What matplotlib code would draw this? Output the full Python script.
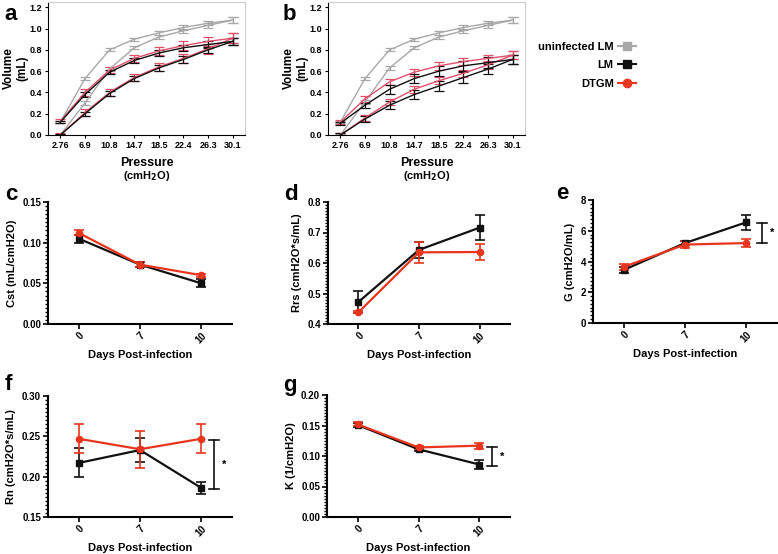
import numpy as np
import matplotlib
matplotlib.use("Agg")
import matplotlib.pyplot as plt
from matplotlib.ticker import MultipleLocator
from matplotlib.lines import Line2D

plt.rcParams['font.family'] = ['Liberation Sans', 'DejaVu Sans']
plt.rcParams['font.weight'] = 'bold'

# ---- pressure-volume loops (a, b) ----
pressure = ["2.76", "6.9", "10.8", "14.7", "18.5", "22.4", "26.3", "30.1"]

# panel a
a_unf_up = [0.12, 0.53, 0.80, 0.90, 0.96, 1.01, 1.05, 1.08]
a_unf_lo = [0.00, 0.30, 0.62, 0.82, 0.92, 0.98, 1.03, 1.08]
a_lm_up = [0.12, 0.38, 0.59, 0.70, 0.77, 0.82, 0.85, 0.88]
a_lm_lo = [0.00, 0.20, 0.39, 0.53, 0.63, 0.71, 0.80, 0.88]
a_dt_up = [0.13, 0.40, 0.61, 0.72, 0.79, 0.84, 0.88, 0.91]
a_dt_lo = [0.00, 0.21, 0.40, 0.54, 0.64, 0.72, 0.81, 0.91]
a_unf_err = [0.01, 0.015, 0.015, 0.015, 0.02, 0.02, 0.02, 0.025]
a_lm_err = [0.01, 0.02, 0.02, 0.025, 0.025, 0.03, 0.03, 0.035]
a_dt_err = [0.02, 0.035, 0.03, 0.035, 0.04, 0.04, 0.045, 0.045]

# panel b
b_unf_up = [0.12, 0.53, 0.80, 0.90, 0.96, 1.01, 1.05, 1.08]
b_unf_lo = [0.00, 0.31, 0.63, 0.82, 0.92, 0.98, 1.03, 1.08]
b_lm_up = [0.11, 0.28, 0.43, 0.53, 0.60, 0.65, 0.68, 0.71]
b_lm_lo = [0.00, 0.15, 0.28, 0.38, 0.46, 0.54, 0.62, 0.71]
b_dt_up = [0.12, 0.34, 0.50, 0.59, 0.65, 0.69, 0.72, 0.75]
b_dt_lo = [0.00, 0.16, 0.31, 0.43, 0.51, 0.58, 0.66, 0.75]
b_unf_err = [0.01, 0.015, 0.015, 0.015, 0.02, 0.02, 0.02, 0.025]
b_lm_err = [0.015, 0.025, 0.04, 0.045, 0.05, 0.05, 0.05, 0.045]
b_dt_err = [0.02, 0.03, 0.03, 0.035, 0.035, 0.035, 0.035, 0.035]

# ---- time course panels (c-g) ----
days = ["0", "7", "10"]
cst_lm = [0.105, 0.073, 0.050]
cst_lm_err = [0.005, 0.003, 0.005]
cst_dt = [0.112, 0.073, 0.060]
cst_dt_err = [0.003, 0.003, 0.002]

rrs_lm = [0.472, 0.643, 0.716]
rrs_lm_err = [0.035, 0.025, 0.042]
rrs_dt = [0.438, 0.635, 0.636]
rrs_dt_err = [0.003, 0.035, 0.025]

g_lm = [3.45, 5.2, 6.55]
g_lm_err = [0.2, 0.15, 0.5]
g_dt = [3.65, 5.1, 5.2]
g_dt_err = [0.2, 0.25, 0.25]

rn_lm = [0.217, 0.233, 0.186]
rn_lm_err = [0.018, 0.015, 0.008]
rn_dt = [0.247, 0.234, 0.247]
rn_dt_err = [0.018, 0.023, 0.018]

k_lm = [0.151, 0.111, 0.086]
k_lm_err = [0.003, 0.003, 0.008]
k_dt = [0.152, 0.114, 0.117]
k_dt_err = [0.003, 0.003, 0.005]

GRAY = '#a8a8a8'
BLACK = '#111111'
PINK = '#e0506a'
RED = '#e8361e'

W, H = 778, 554
fig = plt.figure(figsize=(W / 100, H / 100), dpi=100)


def ax_px(l, t, r, b):
    return fig.add_axes([l / W, 1 - b / H, (r - l) / W, (b - t) / H])


def letter_px(x, y, s):
    fig.text(x / W, 1 - y / H, s, fontsize=16, fontweight='bold',
             ha='left', va='center')


def pv_panel(ax, curves):
    x = np.arange(len(pressure))
    for up, lo, err, col in curves:
        for y in (up, lo):
            ax.errorbar(x, y, yerr=err, color=col, lw=1.0, capsize=3.5,
                        elinewidth=0.9, capthick=0.9)
    ax.set_xlim(-0.5, 7.5)
    ax.set_ylim(0, 1.25)
    ax.set_xticks(x)
    ax.set_xticklabels(pressure, fontsize=6.5)
    yt = np.arange(0, 1.21, 0.2)
    ax.set_yticks(yt)
    ax.set_yticklabels(["%.1f" % v for v in yt], fontsize=6.5)
    ax.tick_params(length=2.5, width=0.8, pad=2)
    for s in ('top', 'right'):
        ax.spines[s].set_color('#cccccc')
        ax.spines[s].set_linewidth(0.8)
    ax.set_xlabel("Pressure", fontsize=9, fontweight='bold', labelpad=5)
    ax.set_ylabel("Volume\n(mL)", fontsize=8.5, fontweight='bold')
    ax.yaxis.set_label_coords(-0.10, 0.5)
    ax.text(0.5, -0.308, "(cmH$_2$O)", transform=ax.transAxes, ha='center',
            va='center', fontsize=8)


ax_a = ax_px(48, 2, 245, 135)
pv_panel(ax_a, [(a_unf_up, a_unf_lo, a_unf_err, GRAY),
                (a_dt_up, a_dt_lo, a_dt_err, PINK),
                (a_lm_up, a_lm_lo, a_lm_err, BLACK)])
letter_px(4, 14, 'a')

ax_b = ax_px(328, 2, 525, 135)
pv_panel(ax_b, [(b_unf_up, b_unf_lo, b_unf_err, GRAY),
                (b_dt_up, b_dt_lo, b_dt_err, PINK),
                (b_lm_up, b_lm_lo, b_lm_err, BLACK)])
letter_px(283, 14, 'b')

# legend
handles = [Line2D([], [], color=GRAY, marker='s', ms=6, lw=1.5),
           Line2D([], [], color=BLACK, marker='s', ms=6, lw=1.5),
           Line2D([], [], color=RED, marker='o', ms=6, lw=1.5)]
leg = fig.legend(handles, ["uninfected LM", "LM", "DTGM"], loc='upper left',
                 bbox_to_anchor=(528 / W, 1 - 32 / H), frameon=False,
                 markerfirst=False, handlelength=1.6, labelspacing=0.75,
                 handletextpad=0.4, prop={'weight': 'bold', 'size': 8})
leg._legend_box.align = 'right'


def tc_panel(ax, lm, lm_err, dt, dt_err, ylim, major, minor, fmt, ylabel):
    x = np.arange(len(days))
    ax.errorbar(x, lm, yerr=lm_err, color=BLACK, marker='s', ms=4.5, lw=1.6,
                capsize=3.5, elinewidth=1.2, capthick=1.2)
    ax.errorbar(x, dt, yerr=dt_err, color=RED, marker='o', ms=4.5, lw=1.6,
                capsize=3.5, elinewidth=1.2, capthick=1.2)
    ax.set_xlim(-0.5, 2.5)
    ax.set_ylim(*ylim)
    ax.set_xticks(x)
    ax.set_xticklabels(days, rotation=45, fontsize=7, ha='right',
                       rotation_mode='anchor')
    ticks = np.arange(ylim[0], ylim[1] + major / 2, major)
    ax.set_yticks(ticks)
    ax.set_yticklabels([fmt % v for v in ticks], fontsize=7)
    ax.yaxis.set_minor_locator(MultipleLocator(minor))
    ax.tick_params(which='major', length=3.5, width=1.2, pad=1.5)
    ax.tick_params(which='minor', length=2, width=1.0)
    ax.spines['top'].set_visible(False)
    ax.spines['right'].set_visible(False)
    for s in ('left', 'bottom'):
        ax.spines[s].set_linewidth(1.5)
    ax.set_xlabel("Days Post-infection", fontsize=8, fontweight='bold', labelpad=3)
    ax.set_ylabel(ylabel, fontsize=8, fontweight='bold', labelpad=4)


def bracket(ax, xpos, y0, y1, star_dx=0.17):
    ax.plot([xpos, xpos], [y0, y1], color=BLACK, lw=1.2, clip_on=False)
    ax.plot([xpos - 0.08, xpos + 0.08], [y0, y0], color=BLACK, lw=1.2, clip_on=False)
    ax.plot([xpos - 0.08, xpos + 0.08], [y1, y1], color=BLACK, lw=1.2, clip_on=False)
    ax.text(xpos + star_dx, (y0 + y1) / 2, "*", ha='center', va='center',
            fontsize=8, clip_on=False)


ax_c = ax_px(48, 202, 232, 324)
tc_panel(ax_c, cst_lm, cst_lm_err, cst_dt, cst_dt_err, (0, 0.15), 0.05, 0.005,
         "%.2f", "Cst (mL/cmH2O)")
letter_px(5, 194, 'c')

ax_d = ax_px(328, 202, 510, 324)
tc_panel(ax_d, rrs_lm, rrs_lm_err, rrs_dt, rrs_dt_err, (0.4, 0.8), 0.1, 0.01,
         "%.1f", "Rrs (cmH2O*s/mL)")
letter_px(284, 195, 'd')

ax_e = ax_px(593, 200, 777, 323)
tc_panel(ax_e, g_lm, g_lm_err, g_dt, g_dt_err, (0, 8), 2, 0.25,
         "%d", "G (cmH2O/mL)")
bracket(ax_e, 2.25, 5.2, 6.5)
letter_px(556, 193, 'e')

ax_f = ax_px(48, 396, 232, 517)
tc_panel(ax_f, rn_lm, rn_lm_err, rn_dt, rn_dt_err, (0.15, 0.30), 0.05, 0.005,
         "%.2f", "Rn (cmH2O*s/mL)")
bracket(ax_f, 2.2, 0.185, 0.245)
letter_px(5, 385, 'f')

ax_g = ax_px(327, 395, 510, 517)
tc_panel(ax_g, k_lm, k_lm_err, k_dt, k_dt_err, (0, 0.20), 0.05, 0.005,
         "%.2f", "K (1/cmH2O)")
bracket(ax_g, 2.2, 0.083, 0.115)
letter_px(283, 385, 'g')

fig.savefig("out.png", dpi=100)
